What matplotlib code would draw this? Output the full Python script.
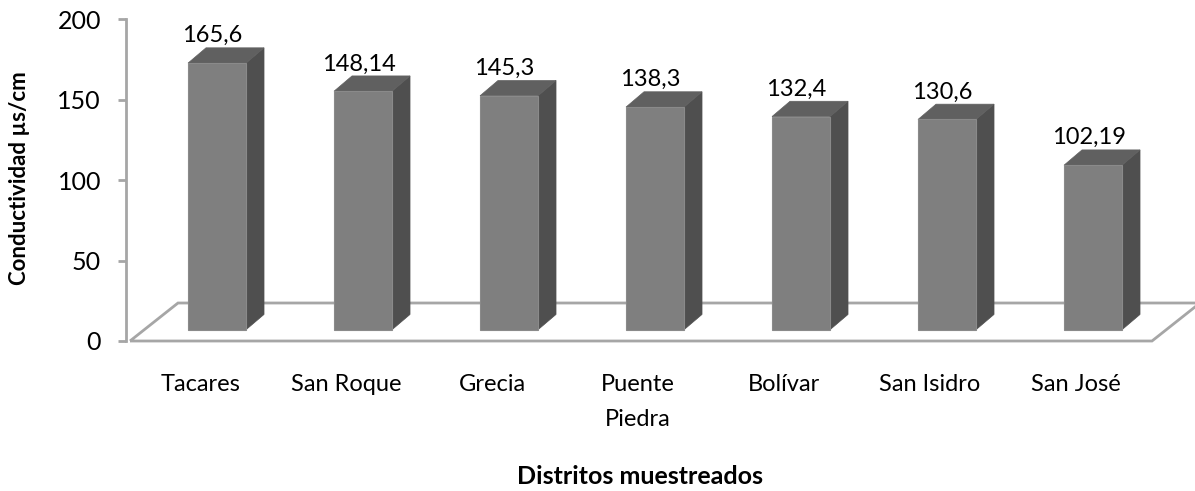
import matplotlib
matplotlib.use("Agg")
import matplotlib.pyplot as plt
from matplotlib.patches import Polygon

categories = ["Tacares", "San Roque", "Grecia", "Puente\nPiedra", "Bolívar", "San Isidro", "San José"]
values = [165.6, 148.14, 145.3, 138.3, 132.4, 130.6, 102.19]
value_labels = ["165,6", "148,14", "145,3", "138,3", "132,4", "130,6", "102,19"]
yticks = [0, 50, 100, 150, 200]

plt.rcParams['font.family'] = ['Lato', 'DejaVu Sans']

W, H = 1195, 491
fig = plt.figure(figsize=(W / 100, H / 100), dpi=100)
# axes: y-axis line at px 126, y 0 -> px 341, 200 -> px 19
ax_left, ax_right, ax_top, ax_bot = 126, 1195, 19, 341
ax = fig.add_axes([ax_left / W, (H - ax_bot) / H, (ax_right - ax_left) / W, (ax_bot - ax_top) / H])
slot = 146.0
x0_px = 130
ax.set_xlim((ax_left - x0_px) / slot, (ax_right - x0_px) / slot)
ax.set_ylim(0, 200)

n = len(categories)
# floor depth offsets (data units)
Dx, Dy = 48 / slot, 38 / 1.61
floor = Polygon([(0, 0), (n, 0), (n + Dx, Dy), (Dx, Dy)], closed=True,
                facecolor='none', edgecolor='#a6a6a6', lw=2.0, clip_on=False, zorder=1)
ax.add_patch(floor)

# bars
bw = 58 / slot
off_x = 0.096
base = 7.0
sdx, sdy = 18 / slot, 9.5
front_c, side_c, top_c = '#7f7f7f', '#4f4f4f', '#606060'
for i, v in enumerate(values):
    cx = i + 0.5 + off_x
    xl, xr = cx - bw / 2, cx + bw / 2
    yb, yt = base, base + v
    side = Polygon([(xr, yb), (xr + sdx, yb + sdy), (xr + sdx, yt + sdy), (xr, yt)],
                   closed=True, facecolor=side_c, edgecolor=side_c, lw=0.5, zorder=3, clip_on=False)
    top = Polygon([(xl, yt), (xr, yt), (xr + sdx, yt + sdy), (xl + sdx, yt + sdy)],
                  closed=True, facecolor=top_c, edgecolor=top_c, lw=0.5, zorder=3, clip_on=False)
    front = Polygon([(xl, yb), (xr, yb), (xr, yt), (xl, yt)],
                    closed=True, facecolor=front_c, edgecolor='#8a8a8a', lw=0.8, zorder=4, clip_on=False)
    for p in (side, top, front):
        ax.add_patch(p)
    ax.text(cx - 0.03, yt + 17, value_labels[i], ha='center', va='center',
            fontsize=17, color='#000000', zorder=5)

# axes styling
for s in ['top', 'right', 'bottom']:
    ax.spines[s].set_visible(False)
ax.spines['left'].set_color('#a6a6a6')
ax.spines['left'].set_linewidth(2.0)
ax.set_yticks(yticks)
ax.set_yticklabels([str(t) for t in yticks], fontsize=18, color='#000000')
ax.tick_params(axis='y', length=6, width=2, color='#a6a6a6', pad=12)
ax.set_xticks([])

for i, c in enumerate(categories):
    xc = i + 0.5 - 0.02
    fig.text((x0_px + xc * slot) / W, 1 - 374 / H, c, ha='center', va='top',
             fontsize=17, color='#000000', linespacing=1.85)

fig.text(640 / W, 1 - 476 / H, "Distritos muestreados", ha='center', va='center',
         fontsize=18, fontweight='bold', color='#000000')
fig.text(20 / W, 1 - 178 / H, "Conductividad µs/cm", ha='center', va='center',
         rotation=90, fontsize=16, fontweight='bold', color='#000000')

fig.savefig("out.png", dpi=100)
